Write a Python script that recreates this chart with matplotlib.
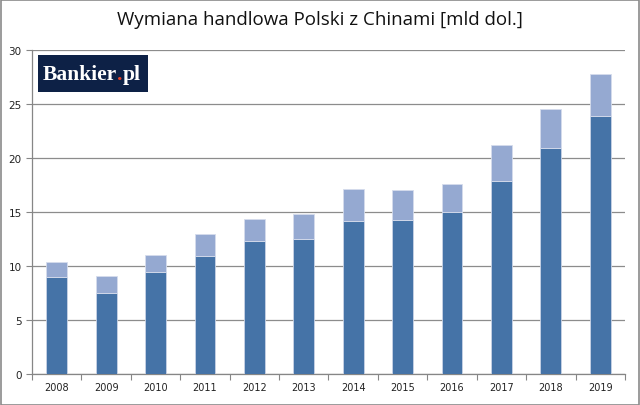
import matplotlib
matplotlib.use("Agg")
import matplotlib.pyplot as plt
from matplotlib.patches import Rectangle
import numpy as np

years = ["2008", "2009", "2010", "2011", "2012", "2013", "2014", "2015", "2016", "2017", "2018", "2019"]
import_vals = [9.0, 7.5, 9.4, 10.9, 12.35, 12.5, 14.2, 14.3, 15.0, 17.85, 20.9, 23.85]
total_vals = [10.4, 9.05, 11.05, 12.95, 14.35, 14.8, 17.15, 17.05, 17.6, 21.2, 24.5, 27.8]
export_vals = [t - i for t, i in zip(total_vals, import_vals)]

dark = "#4573a7"
light = "#95a9d1"

fig = plt.figure(figsize=(6.4, 4.06), dpi=100)
ax = fig.add_axes([32/640, 31/406, (625-32)/640, (375-51)/406])

x = np.arange(len(years))
ax.bar(x, import_vals, width=0.42, color=dark, edgecolor="#c9d3e6", linewidth=0.6, zorder=3)
ax.bar(x, export_vals, bottom=import_vals, width=0.42, color=light, edgecolor="#d5dcec", linewidth=0.6, zorder=3)

ax.set_xlim(-0.5, len(years) - 0.5)
ax.set_ylim(0, 30)
ax.set_yticks(range(0, 31, 5))
ax.set_xticks(x)
ax.set_xticklabels(years, fontsize=7, color="#222222")
ax.tick_params(axis="x", length=0, pad=6)
ax.set_xticks(np.arange(-0.5, len(years)), minor=True)
ax.tick_params(axis="x", which="minor", length=4, color="#868686", width=0.8)
ax.tick_params(axis="y", labelsize=7.5, colors="#222222", length=4, width=0.8)
ax.tick_params(axis="y", color="#868686")
ax.yaxis.grid(True, color="#8c8c8c", linewidth=0.9, zorder=0)
ax.set_axisbelow(True)
for s in ["top", "right"]:
    ax.spines[s].set_visible(False)
for s in ["left", "bottom"]:
    ax.spines[s].set_color("#868686")
    ax.spines[s].set_linewidth(0.9)

fig.text(0.5, 1 - 20/406, "Wymiana handlowa Polski z Chinami [mld dol.]", ha="center", va="center",
         fontsize=13.5, family="Open Sans", color="#111111")

# logo
ax.add_patch(Rectangle((38/640, 1 - 93/406), 110/640, 37/406, transform=fig.transFigure,
                       facecolor="#0d2146", edgecolor="none", zorder=5, clip_on=False))
lf = dict(fontsize=15.5, family="Liberation Serif", weight="bold", zorder=6)
t1 = ax.text(43/640, 1 - 75/406, "Bankier", ha="left", va="center", color="white",
             transform=fig.transFigure, clip_on=False, **lf)
t2 = ax.annotate(".", xy=(1, 0), xycoords=t1, ha="left", va="bottom", color="#e5432a",
                 annotation_clip=False, **lf)
t3 = ax.annotate("pl", xy=(1, 0), xycoords=t2, ha="left", va="bottom", color="white",
                 annotation_clip=False, **lf)

fig.patches.append(Rectangle((0.5/640, 0.5/406), 638.5/640, 404.5/406, transform=fig.transFigure,
                             facecolor="none", edgecolor="#8a8a8a", linewidth=1.2, zorder=10))

fig.savefig("out.png", dpi=100)
